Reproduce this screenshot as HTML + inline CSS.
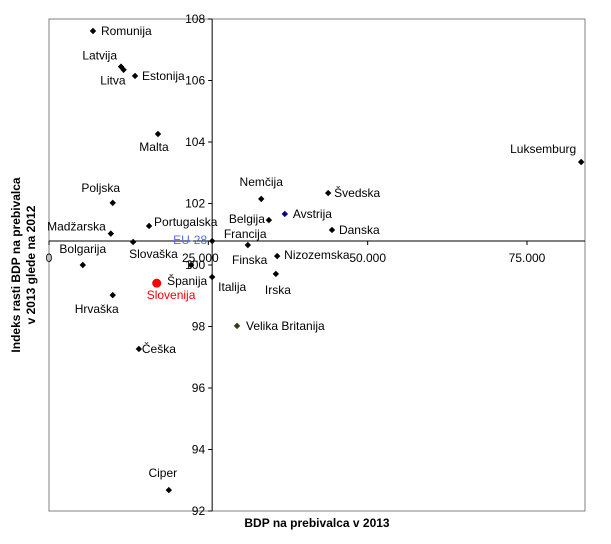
<!DOCTYPE html>
<html><head><meta charset="utf-8"><style>
body{margin:0;background:#fff;}
svg text{font-family:"Liberation Sans",Arial,sans-serif;font-size:12px;}
</style></head><body>
<svg id="chart" width="611" height="539" xmlns="http://www.w3.org/2000/svg">
<rect x="49" y="19" width="536" height="492" fill="#fff" stroke="#808080" stroke-width="1"/>
<g id="axes"></g>
<g id="marks"></g>
<text x="317" y="527" text-anchor="middle" font-weight="bold">BDP na prebivalca v 2013</text>
<text transform="translate(20,265) rotate(-90)" text-anchor="middle" font-weight="bold"><tspan x="0" y="0">Indeks rasti BDP na prebivalca</tspan><tspan x="0" y="15">v 2013 glede na 2012</tspan></text>
</svg>
<script>
const countries=["Romunija","Latvija","Litva","Estonija","Malta","Poljska","Madžarska","Portugalska","Slovaška","EU-28","Bolgarija","Hrvaška","Slovenija","Španija","Italija","Francija","Belgija","Nemčija","Avstrija","Švedska","Danska","Nizozemska","Irska","Luksemburg","Velika Britanija","Češka","Ciper"];
const gdp=[6900,11300,11700,13500,17100,10000,9700,15700,13200,25600,5300,10000,16900,22300,25600,31200,34500,33300,37000,43800,44400,35800,35600,83500,29500,14100,18800];
const growth=[107.61,106.45,106.35,106.15,104.26,102.02,101.02,101.27,100.75,100.78,100.0,99.02,99.41,100.0,99.61,100.65,101.46,102.15,101.66,102.34,101.14,100.29,99.71,103.35,98.02,97.27,92.68];
const xTicks=[0,25000,50000,75000];
const xTickLabels=["0","25.000","50.000","75.000"];
const yTicks=[92,94,96,98,100,102,104,106,108];
const yTickLabels=["92","94","96","98","100","102","104","106","108"];
const xCross=25600, yCross=100.78;
const X=v=>49+v*478/75000;
const Y=v=>19+(108-v)*30.75;
// label offsets [dx,dy,anchor]
const labelPos={"Romunija":[8,4,"start"],"Latvija":[-4,-7,"end"],"Litva":[2,15,"end"],"Estonija":[7,4,"start"],"Malta":[-4,17,"middle"],"Poljska":[-12,-11,"middle"],"Madžarska":[-5,-3,"end"],"Portugalska":[5,0,"start"],"Slovaška":[-4,16,"start"],"EU-28":[-5,3,"end"],"Bolgarija":[0,-12,"middle"],"Hrvaška":[-16,18,"middle"],"Slovenija":[-10,16,"start"],"Španija":[-24,20,"start"],"Italija":[6,14,"start"],"Francija":[-24,-7,"start"],"Belgija":[-4,3,"end"],"Nemčija":[0,-13,"middle"],"Avstrija":[8,4,"start"],"Švedska":[6,4,"start"],"Danska":[7,4,"start"],"Nizozemska":[7,3,"start"],"Irska":[2,20,"middle"],"Luksemburg":[-5,-9,"end"],"Velika Britanija":[9,4,"start"],"Češka":[3,4,"start"],"Ciper":[-6,-13,"middle"]};
const NS="http://www.w3.org/2000/svg";
function mk(tag,attrs,parent){const e=document.createElementNS(NS,tag);for(const k in attrs)e.setAttribute(k,attrs[k]);parent.appendChild(e);return e;}
const axes=document.getElementById('axes'), marks=document.getElementById('marks');
const ax=X(xCross), ay=Y(yCross);
const xl=mk('line',{x1:49,x2:585,y1:ay,y2:ay,stroke:'#000'},axes);


const yl=mk('line',{x1:ax,x2:ax,y1:19,y2:511,stroke:'#000'},axes);


xTicks.forEach((t,i)=>{
  const tk=mk('line',{x1:X(t),x2:X(t),y1:ay,y2:ay+4,stroke:'#000'},axes);
  
  
  const lb=mk('text',{x:X(t)-(i==1?8:0),y:ay+21,'text-anchor':'middle'},axes);
  lb.textContent=xTickLabels[i];
  
  
});
yTicks.forEach((t,i)=>{
  const tk=mk('line',{x1:ax-4,x2:ax,y1:Y(t),y2:Y(t),stroke:'#000'},axes);
  
  
  const lb=mk('text',{x:ax-7,y:Y(t)+4,'text-anchor':'end'},axes);
  lb.textContent=yTickLabels[i];
  
  
});
countries.forEach((c,i)=>{
  const x=X(gdp[i]), y=Y(growth[i]);
  let col='#000', r=3.2, lc='#000';
  if(c==='Slovenija'){col='#f00';lc='#f00';}
  if(c==='Avstrija'){col='#00008b';}
  if(c==='Velika Britanija'){col='#3a3a10';}
  if(c==='EU-28'){lc='#4f6fe0';}
  let m;
  if(c==='Slovenija'){m=mk('circle',{cx:x,cy:y,r:4.5,fill:col},marks);}
  else {m=mk('path',{d:`M${x},${y-r}L${x+r},${y}L${x},${y+r}L${x-r},${y}Z`,fill:col},marks);}
  
  
  const p=labelPos[c];
  const t=mk('text',{x:x+p[0],y:y+p[1],'text-anchor':p[2],fill:lc},marks);
  t.textContent=c;
  
  
});
const fl=mk('text',{x:232,y:264,fill:'#000'},marks);
fl.textContent='Finska';


</script>
</body></html>
